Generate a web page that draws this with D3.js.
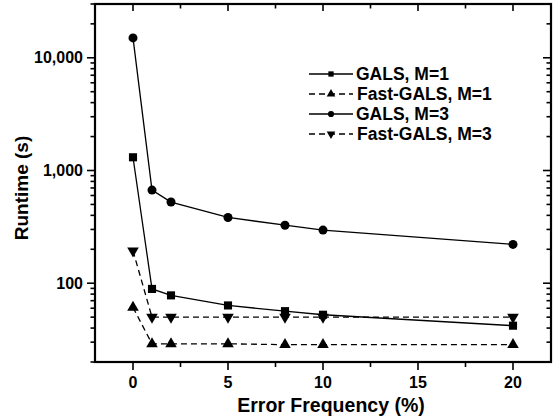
<!DOCTYPE html>
<html>
<head>
<meta charset="utf-8">
<script src="https://cdn.jsdelivr.net/npm/d3@7"></script>
<style>
  body { margin: 0; background: #fff; }
  svg text { font-family: "Liberation Sans", Arial, Helvetica, sans-serif; font-weight: bold; fill: #000; }
</style>
</head>
<body>
<div id="chart"></div>
<script>
// error frequency (%) on x, runtime (s) on y
var errorFreq = [0, 1, 2, 5, 8, 10, 20];
var galsM1 = [1310, 89, 78, 63.5, 56.5, 52.5, 42];
var fastGalsM1 = [61, 29, 29, 29, 28.5, 28.5, 28.5];
var galsM3 = [15000, 670, 525, 383, 327, 296, 221];
var fastGalsM3 = [194, 50, 50, 50, 50, 50, 50];
var seriesNames = ['GALS, M=1', 'Fast-GALS, M=1', 'GALS, M=3', 'Fast-GALS, M=3'];
var xTicks = [0, 5, 10, 15, 20];
var xMinorTicks = [2.5, 7.5, 12.5, 17.5];
var yTicks = [100, 1000, 10000];

var width = 559, height = 420;
var margin = {left: 95, right: 8, top: 4, bottom: 58};

var x = d3.scaleLinear().domain([-2, 22]).range([margin.left, width - margin.right]);
var y = d3.scaleLog().domain([20, 30000]).range([height - margin.bottom, margin.top]);

// minor ticks 2..9 per decade inside the domain
var yMinorTicks = [];
[10, 100, 1000, 10000].forEach(function (dec) {
    for (var k = 2; k <= 9; k++) {
        var v = dec * k;
        if (v >= 20 && v <= 30000) yMinorTicks.push(v);
    }
});

var series = [
    {name: seriesNames[0], values: galsM1, symbol: d3.symbolSquare, rot: 0, size: 66, legSize: 28, dashed: false},
    {name: seriesNames[1], values: fastGalsM1, symbol: d3.symbolTriangle, rot: 0, size: 58, legSize: 32, dashed: true},
    {name: seriesNames[2], values: galsM3, symbol: d3.symbolCircle, rot: 0, size: 64, legSize: 30, dashed: false},
    {name: seriesNames[3], values: fastGalsM3, symbol: d3.symbolTriangle, rot: 180, size: 58, legSize: 32, dashed: true}
];

var svg = d3.select('#chart').append('svg').attr('width', width).attr('height', height);

var x0 = margin.left, x1 = width - margin.right, y0 = height - margin.bottom, y1 = margin.top;

// ticks: left & bottom outward, top & right inward
var ticks = svg.append('g').attr('stroke', '#000').attr('stroke-width', 1.6);
yTicks.forEach(function (v) {
    ticks.append('line').attr('x1', x0 - 8).attr('x2', x0).attr('y1', y(v)).attr('y2', y(v));
    ticks.append('line').attr('x1', x1 - 8).attr('x2', x1).attr('y1', y(v)).attr('y2', y(v));
});
yMinorTicks.forEach(function (v) {
    ticks.append('line').attr('x1', x0 - 4.5).attr('x2', x0).attr('y1', y(v)).attr('y2', y(v));
    ticks.append('line').attr('x1', x1 - 4.5).attr('x2', x1).attr('y1', y(v)).attr('y2', y(v));
});
xTicks.forEach(function (v) {
    ticks.append('line').attr('x1', x(v)).attr('x2', x(v)).attr('y1', y0).attr('y2', y0 + 8);
    ticks.append('line').attr('x1', x(v)).attr('x2', x(v)).attr('y1', y1).attr('y2', y1 + 7);
});
xMinorTicks.forEach(function (v) {
    ticks.append('line').attr('x1', x(v)).attr('x2', x(v)).attr('y1', y0).attr('y2', y0 + 5);
    ticks.append('line').attr('x1', x(v)).attr('x2', x(v)).attr('y1', y1).attr('y2', y1 + 4.5);
});

// frame
svg.append('rect').attr('x', x0).attr('y', y1).attr('width', x1 - x0).attr('height', y0 - y1)
    .style('fill', 'none').style('stroke', '#000').style('stroke-width', 2.2);

// tick labels
var fmt = d3.format(',');
svg.selectAll('.ylab').data(yTicks).enter().append('text')
    .attr('x', x0 - 12).attr('y', function (d) { return y(d); }).attr('dy', '0.35em')
    .style('text-anchor', 'end').style('font-size', '16px').text(fmt);
svg.selectAll('.xlab').data(xTicks).enter().append('text')
    .attr('x', function (d) { return x(d); }).attr('y', y0 + 26)
    .style('text-anchor', 'middle').style('font-size', '16px').text(function (d) { return d; });

// axis titles
svg.append('text').attr('x', (x0 + x1) / 2 + 8).attr('y', 412)
    .style('text-anchor', 'middle').style('font-size', '19.5px').text('Error Frequency (%)');
svg.append('text').attr('transform', 'translate(28,188) rotate(-90)')
    .style('text-anchor', 'middle').style('font-size', '19px').text('Runtime (s)');

// series lines + markers
var line = d3.line().x(function (d) { return x(d[0]); }).y(function (d) { return y(d[1]); });
series.forEach(function (s) {
    var pts = errorFreq.map(function (f, i) { return [f, s.values[i]]; });
    svg.append('path').datum(pts).attr('d', line)
        .style('fill', 'none').style('stroke', '#000').style('stroke-width', 1.3)
        .style('stroke-dasharray', s.dashed ? '6,4' : null);
    svg.selectAll(null).data(pts).enter().append('path')
        .attr('d', d3.symbol().type(s.symbol).size(s.size))
        .attr('transform', function (d) { return 'translate(' + x(d[0]) + ',' + y(d[1]) + ') rotate(' + s.rot + ')'; })
        .style('fill', '#000');
});

// legend
var legend = svg.append('g').attr('transform', 'translate(309,74)');
series.forEach(function (s, i) {
    var g = legend.append('g').attr('transform', 'translate(0,' + i * 20 + ')');
    g.append('line').attr('x1', 0).attr('x2', 44).attr('y1', 0).attr('y2', 0)
        .style('stroke', '#000').style('stroke-width', 1.3)
        .style('stroke-dasharray', s.dashed ? '6,4' : null);
    g.append('path').attr('d', d3.symbol().type(s.symbol).size(s.legSize))
        .attr('transform', 'translate(22,0) rotate(' + s.rot + ')').style('fill', '#000');
    g.append('text').attr('x', s.dashed ? 48 : 47).attr('y', 0).attr('dy', '0.36em')
        .style('font-size', '17.5px').text(s.name);
});
</script>
</body>
</html>
